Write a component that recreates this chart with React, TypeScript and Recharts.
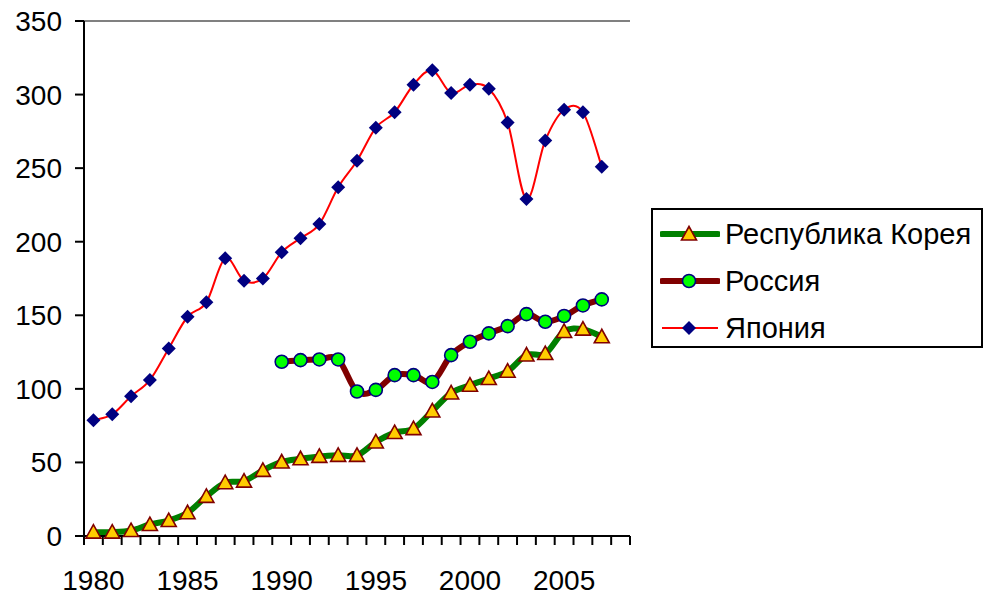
import React from "react";
import {
  LineChart,
  Line,
  XAxis,
  YAxis,
  CartesianGrid,
  Legend,
  ReferenceLine,
} from "recharts";

const years = [
  1980, 1981, 1982, 1983, 1984, 1985, 1986, 1987, 1988, 1989, 1990, 1991, 1992, 1993,
  1994, 1995, 1996, 1997, 1998, 1999, 2000, 2001, 2002, 2003, 2004, 2005, 2006, 2007,
];

const korea = [
  2.6, 2.6, 3.7, 7.8, 10.5, 15.8, 26.9, 36.2, 37.3, 44.6, 50.3, 52.5, 54.1, 54.8,
  54.8, 63.9, 70.3, 73, 85, 97.2, 102.5, 107, 112, 123, 124, 139, 140.6, 135.4,
];

const russia = [
  null, null, null, null, null, null, null, null, null, null, 118.4, 119.5, 120, 120,
  98.2, 99.3, 109.3, 109.3, 104.7, 122.9, 132, 137.7, 142.6, 150.8, 145.6, 149.5, 156.7, 160.8,
];

const japan = [
  78.7, 82.7, 95, 106, 127.5, 149, 158.8, 188.7, 173.5, 175, 192.8, 202.4, 212, 237,
  255, 277.5, 288, 306.7, 316.5, 301, 306.7, 304, 281, 229, 268.8, 289.7, 288, 251,
];

const yTicks = [0, 50, 100, 150, 200, 250, 300, 350];
const yearLabels = [1980, 1985, 1990, 1995, 2000, 2005];
// category boundaries (Excel puts tick marks between categories), one extra empty slot for 2008
const yearBounds = [...years.map((y) => y - 0.5), 2007.5, 2008.5];

const data = years.map((year, i) => ({
  year,
  korea: korea[i],
  russia: russia[i],
  japan: japan[i],
}));

const FONT = '"Liberation Sans", Arial, sans-serif';

// Excel-like smoothed line (Catmull-Rom through the points)
function excelCurve(context: any) {
  let pts: number[][] = [];
  return {
    areaStart() {},
    areaEnd() {},
    lineStart() {
      pts = [];
    },
    point(x: number, y: number) {
      pts.push([+x, +y]);
    },
    lineEnd() {
      const n = pts.length;
      if (!n) return;
      context.moveTo(pts[0][0], pts[0][1]);
      const t = 1 / 6;
      for (let i = 0; i < n - 1; i++) {
        const p0 = pts[i - 1] || pts[i];
        const p1 = pts[i];
        const p2 = pts[i + 1];
        const p3 = pts[i + 2] || p2;
        context.bezierCurveTo(
          p1[0] + (p2[0] - p0[0]) * t,
          p1[1] + (p2[1] - p0[1]) * t,
          p2[0] - (p3[0] - p1[0]) * t,
          p2[1] - (p3[1] - p1[1]) * t,
          p2[0],
          p2[1]
        );
      }
    },
  };
}

const Triangle = ({ cx, cy }: { cx: number; cy: number }) => (
  <polygon
    points={`${cx},${cy - 7.5} ${cx - 7.5},${cy + 6} ${cx + 7.5},${cy + 6}`}
    fill="#ffcc00"
    stroke="#800000"
    strokeWidth={1.6}
  />
);

const Circle = ({ cx, cy }: { cx: number; cy: number }) => (
  <circle cx={cx} cy={cy} r={6.5} fill="#00ff00" stroke="#000080" strokeWidth={1.6} />
);

const Diamond = ({ cx, cy }: { cx: number; cy: number }) => (
  <polygon
    points={`${cx},${cy - 7} ${cx + 7},${cy} ${cx},${cy + 7} ${cx - 7},${cy}`}
    fill="#000080"
  />
);

const makeDot = (Shape: any) => (props: any) => {
  const { cx, cy, index, value } = props;
  if (cy == null || value == null || Number.isNaN(cy)) return <g key={index} />;
  return (
    <g key={index}>
      <Shape cx={cx} cy={cy} />
    </g>
  );
};

const legendItems = [
  { name: "Республика Корея", color: "#008000", width: 6, Shape: Triangle },
  { name: "Россия", color: "#800000", width: 6, Shape: Circle },
  { name: "Япония", color: "#ff0000", width: 2, Shape: Diamond },
];

const LegendBox = () => (
  <div
    style={{
      position: "relative",
      width: 332,
      height: 140,
      boxSizing: "border-box",
      border: "2px solid #000",
      background: "#fff",
      fontFamily: FONT,
      fontSize: 29,
      color: "#000",
    }}
  >
    {legendItems.map((item, i) => (
      <div
        key={item.name}
        style={{
          position: "absolute",
          left: 7,
          top: 2 + i * 47,
          height: 44,
          display: "flex",
          alignItems: "center",
          whiteSpace: "nowrap",
        }}
      >
        <svg width={60} height={20} style={{ marginRight: 5 }}>
          <line
            x1={2}
            y1={10}
            x2={58}
            y2={10}
            stroke={item.color}
            strokeWidth={item.width}
            strokeLinecap={item.width > 3 ? "round" : "butt"}
          />
          <item.Shape cx={29} cy={10} />
        </svg>
        <span>{item.name}</span>
      </div>
    ))}
  </div>
);

export default function App() {
  return (
    <div style={{ position: "absolute", left: 0, top: 0, background: "#fff" }}>
      <LineChart
        width={984}
        height={600}
        data={data}
        margin={{ top: 21, right: 354, left: 0, bottom: 0 }}
        style={{ fontFamily: FONT }}
      >
        <CartesianGrid horizontal vertical={false} stroke="#000" strokeWidth={2} />
        <XAxis
          xAxisId="b"
          dataKey="year"
          type="number"
          domain={[1979.5, 2008.5]}
          ticks={yearLabels}
          interval={0}
          height={54}
          axisLine={false}
          tickLine={false}
          tickSize={0}
          tickMargin={24}
          tick={{ fill: "#000", fontSize: 28, fontFamily: FONT }}
        />
        <XAxis
          xAxisId="a"
          dataKey="year"
          type="number"
          domain={[1979.5, 2008.5]}
          ticks={yearBounds}
          interval={0}
          height={10}
          tickSize={9}
          tickFormatter={() => ""}
          axisLine={{ stroke: "#000", strokeWidth: 2 }}
          tickLine={{ stroke: "#000", strokeWidth: 2 }}
        />
        <YAxis
          yAxisId="left"
          domain={[0, 350]}
          ticks={yTicks}
          interval={0}
          width={84}
          tickSize={9}
          tickMargin={13}
          axisLine={{ stroke: "#000", strokeWidth: 2 }}
          tickLine={{ stroke: "#000", strokeWidth: 2 }}
          tick={{ fill: "#000", fontSize: 28, fontFamily: FONT }}
        />
        <YAxis
          yAxisId="right"
          orientation="right"
          domain={[0, 350]}
          width={0}
          tick={false}
          tickLine={false}
          axisLine={{ stroke: "#808080", strokeWidth: 2 }}
        />
        <ReferenceLine
          yAxisId="left"
          xAxisId="a"
          y={350}
          stroke="#808080"
          strokeWidth={2}
        />
        <Legend
          layout="vertical"
          align="center"
          verticalAlign="middle"
          wrapperStyle={{ left: 651, top: 208, width: 332 }}
          content={() => <LegendBox />}
        />
        <Line
          xAxisId="a"
          yAxisId="left"
          dataKey="korea"
          name="Республика Корея"
          type={excelCurve as any}
          stroke="#008000"
          strokeWidth={6}
          dot={makeDot(Triangle)}
          activeDot={false}
          isAnimationActive={false}
        />
        <Line
          xAxisId="a"
          yAxisId="left"
          dataKey="russia"
          name="Россия"
          type={excelCurve as any}
          stroke="#800000"
          strokeWidth={6}
          dot={makeDot(Circle)}
          activeDot={false}
          isAnimationActive={false}
        />
        <Line
          xAxisId="a"
          yAxisId="left"
          dataKey="japan"
          name="Япония"
          type={excelCurve as any}
          stroke="#ff0000"
          strokeWidth={2}
          dot={makeDot(Diamond)}
          activeDot={false}
          isAnimationActive={false}
        />
      </LineChart>
    </div>
  );
}
